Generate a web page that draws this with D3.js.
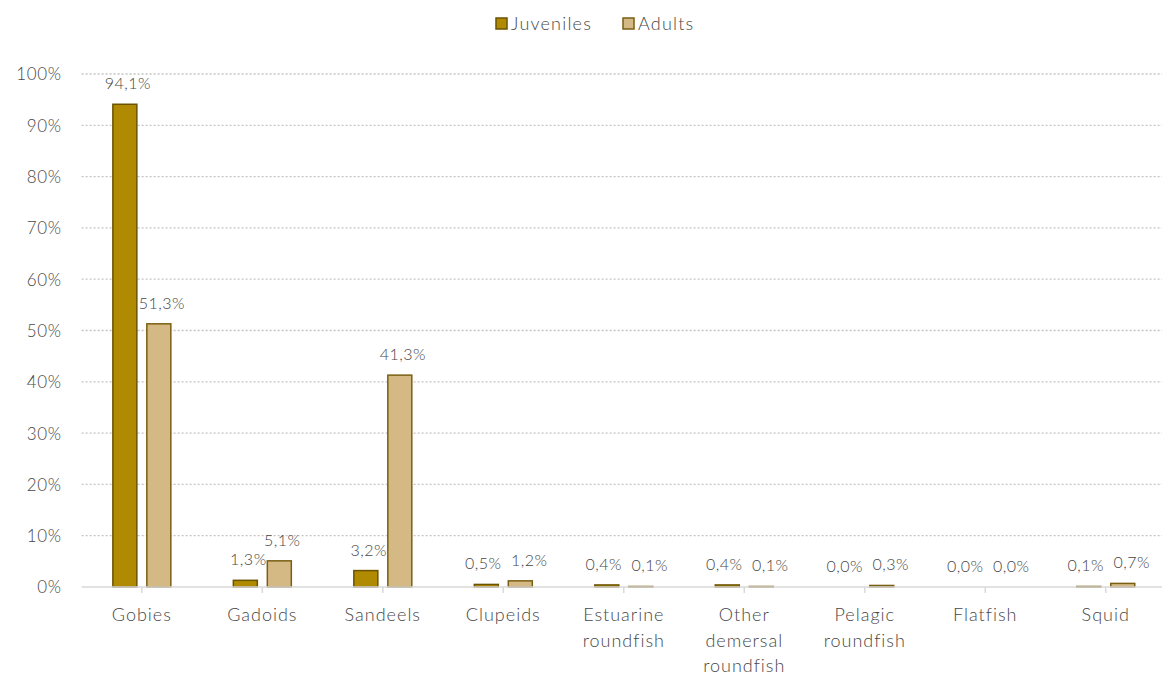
<!DOCTYPE html>
<html>
<head>
<meta charset="utf-8">
<script src="https://cdn.jsdelivr.net/npm/d3@7"></script>
<style>
  html, body { margin: 0; padding: 0; background: #fff; }
  svg { display: block; font-family: "Century Gothic", "URW Gothic", Lato, "DejaVu Sans", sans-serif; font-weight: 300; }
</style>
</head>
<body>
<svg id="chart" width="1162" height="675"></svg>
<script>
const categories = ["Gobies", "Gadoids", "Sandeels", "Clupeids", "Estuarine roundfish", "Other demersal roundfish", "Pelagic roundfish", "Flatfish", "Squid"];
const seriesNames = ["Juveniles", "Adults"];
const juveniles = [94.1, 1.3, 3.2, 0.5, 0.4, 0.4, 0.0, 0.0, 0.1];
const adults = [51.3, 5.1, 41.3, 1.2, 0.1, 0.1, 0.3, 0.0, 0.7];
const yTicks = [0, 10, 20, 30, 40, 50, 60, 70, 80, 90, 100];

const fills = ["#B08A00", "#D5B985"];
const strokes = ["#6B5300", "#7A5F12"];
const textColor = "#474747";

const svg = d3.select("#chart");
const W = 1162;
const plotLeft = 81.6, plotRight = 1166;
const plotBottom = 587, plotTop = 74;

const x = d3.scaleBand().domain(categories).range([plotLeft, plotRight]).paddingInner(0).paddingOuter(0);
const x1 = d3.scaleBand().domain(seriesNames).range([0, x.bandwidth()]).paddingInner(0.294).paddingOuter(0.92);
const y = d3.scaleLinear().domain([0, 100]).range([plotBottom, plotTop]);

// gridlines
svg.append("g").selectAll("line").data(yTicks.filter(d => d > 0)).join("line")
  .attr("x1", plotLeft).attr("x2", W)
  .attr("y1", d => y(d)).attr("y2", d => y(d))
  .attr("stroke", "#c4c4c4").attr("stroke-width", 1.3).attr("stroke-dasharray", "2,2");

// y axis labels
const yAxis = d3.axisLeft(y).tickValues(yTicks).tickFormat(d => d + "%").tickSize(0).tickPadding(20);
const gy = svg.append("g").attr("transform", `translate(${plotLeft},0)`).call(yAxis);
gy.attr("font-family", null).attr("font-size", null);
gy.select(".domain").remove();
gy.selectAll("text").attr("fill", textColor).style("font-size", "17px").style("letter-spacing", "0.6px").attr("dy", "0.35em");

// bars
const data = categories.map((c, i) => ({ cat: c, vals: [juveniles[i], adults[i]] }));
const groups = svg.append("g").selectAll("g").data(data).join("g")
  .attr("transform", d => `translate(${x(d.cat)},0)`);
groups.selectAll("rect").data(d => d.vals.map((v, k) => ({ v, k }))).join("rect")
  .attr("x", d => x1(seriesNames[d.k]))
  .attr("width", x1.bandwidth())
  .attr("y", d => y(d.v))
  .attr("height", d => plotBottom - y(d.v))
  .attr("fill", d => fills[d.k])
  .attr("stroke", d => strokes[d.k])
  .attr("stroke-width", 1.5);

// x axis
const xAxis = d3.axisBottom(x).tickSize(6).tickSizeOuter(0).tickFormat("");
const gx = svg.append("g").attr("transform", `translate(0,${plotBottom})`).call(xAxis);
gx.select(".domain").attr("stroke", "#d9d9d9").attr("stroke-width", 1.5).attr("d", `M${plotLeft},0H${W}`);
gx.selectAll(".tick line").attr("stroke", "#d9d9d9").attr("stroke-width", 1.5);

// category labels (wrapped)
const wrapLines = {
  "Estuarine roundfish": ["Estuarine", "roundfish"],
  "Other demersal roundfish": ["Other", "demersal", "roundfish"],
  "Pelagic roundfish": ["Pelagic", "roundfish"]
};
svg.append("g").selectAll("text").data(categories).join("text")
  .attr("x", d => x(d) + x.bandwidth() / 2)
  .attr("y", 621)
  .attr("text-anchor", "middle")
  .attr("fill", textColor)
  .style("font-size", "18px")
  .style("letter-spacing", "1px")
  .each(function(d) {
    const lines = wrapLines[d] || [d];
    d3.select(this).selectAll("tspan").data(lines).join("tspan")
      .attr("x", x(d) + x.bandwidth() / 2)
      .attr("dy", (l, i) => i === 0 ? 0 : 25.5)
      .text(l => l);
  });

// data labels with simple collision avoidance
const fmt = v => v.toFixed(1).replace(".", ",") + "%";
const labelW = 44, labelH = 16;
data.forEach(d => {
  const pos = d.vals.map((v, k) => ({
    v, k,
    cx: x(d.cat) + x1(seriesNames[k]) + x1.bandwidth() / 2 + 3,
    by: y(v) - 15
  }));
  const dy = Math.abs(pos[0].by - pos[1].by);
  if (dy < labelH) {
    const gap = pos[1].cx - pos[0].cx;
    const need = Math.max(0, labelW + 2 - gap);
    pos[0].cx -= need / 2;
    pos[1].cx += need / 2;
  }
  svg.append("g").selectAll("text").data(pos).join("text")
    .attr("x", p => p.cx)
    .attr("y", p => p.by)
    .attr("text-anchor", "middle")
    .attr("fill", textColor)
    .style("font-size", "16px")
    .style("letter-spacing", "0.5px")
    .text(p => fmt(p.v));
});

// legend
const legend = svg.append("g");
const legendItems = [{ name: "Juveniles", x: 496 }, { name: "Adults", x: 623 }];
legendItems.forEach((it, k) => {
  legend.append("rect").attr("x", it.x).attr("y", 18).attr("width", 11).attr("height", 11)
    .attr("fill", fills[k]).attr("stroke", strokes[k]).attr("stroke-width", 1.5);
  legend.append("text").attr("x", it.x + 15).attr("y", 30)
    .attr("fill", textColor).style("font-size", "18px").style("letter-spacing", "1.2px").text(it.name);
});
</script>
</body>
</html>
